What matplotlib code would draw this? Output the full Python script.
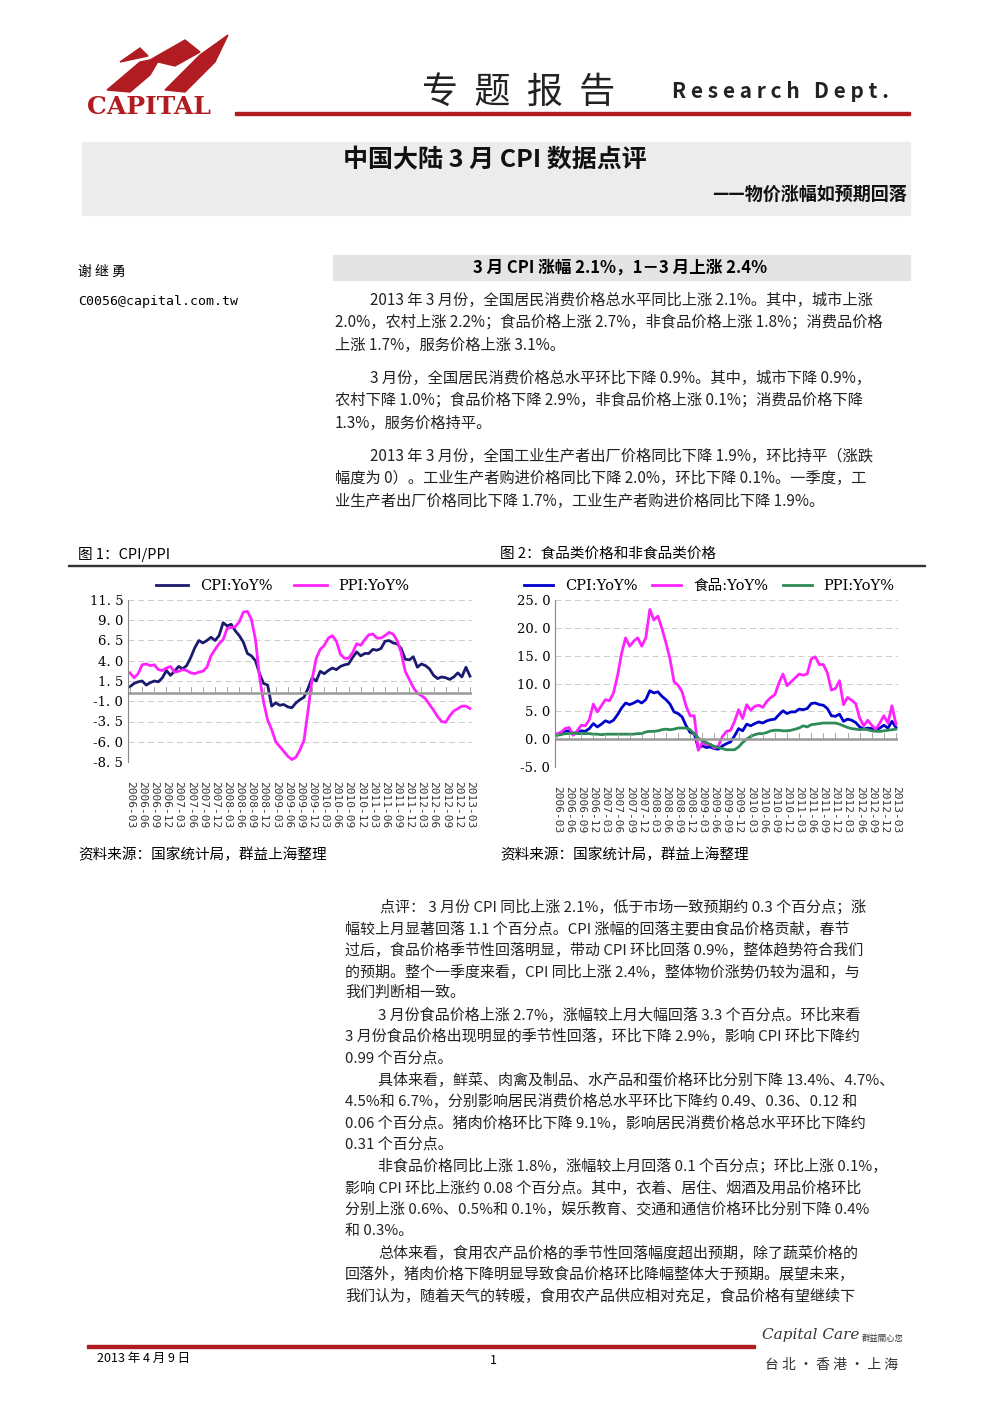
import matplotlib
matplotlib.use("Agg")
import matplotlib.pyplot as plt
import numpy as np
from matplotlib.patches import Rectangle, Polygon

plt.rcParams['font.family'] = ['Noto Sans CJK SC', 'DejaVu Sans']

# ---------------- data ----------------
months = [f"{y}-{m:02d}" for y in range(2006, 2014) for m in range(1, 13)]
months = months[months.index("2006-03"):months.index("2013-03") + 1]

cpi = [0.8,1.2,1.4,1.5,1.0,1.3,1.5,1.4,1.9,2.8,
       2.2,2.7,3.3,3.0,3.4,4.4,5.6,6.5,6.2,6.5,6.9,6.5,
       7.1,8.7,8.3,8.5,7.7,7.1,6.3,4.9,4.6,4.0,2.4,1.2,
       1.0,-1.6,-1.2,-1.5,-1.4,-1.7,-1.8,-1.2,-0.8,-0.5,0.6,1.9,
       1.5,2.7,2.4,2.8,3.1,2.9,3.3,3.5,3.6,4.4,5.1,4.6,
       4.9,4.9,5.4,5.3,5.5,6.4,6.5,6.2,6.1,5.5,4.2,4.1,
       4.5,3.2,3.6,3.4,3.0,2.2,1.8,2.0,1.9,1.7,2.0,2.5,
       2.0,3.2,2.1]
ppi = [2.5,1.9,2.4,3.5,3.6,3.4,3.5,2.9,2.8,3.1,
       3.3,2.6,2.7,2.9,2.8,2.5,2.4,2.6,2.7,3.2,4.6,5.4,
       6.1,6.6,8.0,8.1,8.2,8.8,10.0,10.1,9.1,6.6,2.0,-1.1,
       -3.3,-4.5,-6.0,-6.6,-7.2,-7.8,-8.2,-7.9,-7.0,-5.8,-2.1,1.7,
       4.3,5.4,5.9,6.8,7.1,6.4,4.8,4.3,4.3,5.0,6.1,5.9,
       6.6,7.2,7.3,6.8,6.8,7.1,7.5,7.3,6.5,5.0,2.7,1.7,
       0.7,0.0,-0.3,-0.7,-1.4,-2.1,-2.9,-3.5,-3.6,-2.8,-2.2,-1.9,
       -1.6,-1.6,-1.9]
food = [1.0,1.2,1.9,2.1,0.7,1.5,2.5,2.4,3.5,6.3,
        4.9,6.0,7.1,6.9,8.3,11.4,15.4,18.2,16.7,17.6,18.2,16.7,
        18.2,23.3,21.4,22.1,19.9,17.3,14.4,10.3,9.7,8.5,5.9,4.2,
        4.2,-2.0,-0.6,-1.0,-0.9,-1.6,-1.2,0.5,1.4,1.6,3.2,5.3,
        3.7,6.2,5.2,5.9,6.1,5.7,6.8,7.5,8.0,10.1,11.7,9.6,
        10.3,11.0,11.7,11.5,11.7,14.4,14.8,13.4,13.4,11.9,8.8,9.1,
        10.5,6.2,7.5,7.0,6.4,3.8,2.4,3.4,2.5,1.8,2.9,4.2,
        2.9,6.0,2.7]
green = [0.7,0.8,1.0,1.0,1.1,1.0,1.0,1.0,1.0,0.9,
         0.9,0.8,0.9,0.9,0.9,0.9,0.9,0.9,0.9,0.9,1.0,1.0,
         1.3,1.4,1.4,1.5,1.7,1.8,1.7,1.8,2.0,2.0,2.0,1.7,
         1.0,0.2,-0.3,-0.6,-1.0,-1.3,-1.5,-1.7,-1.9,-1.9,-1.9,-1.4,
         -0.6,0.0,0.5,0.8,1.0,1.0,1.2,1.5,1.6,1.6,1.5,1.5,
         1.6,1.8,2.0,2.4,2.2,2.6,2.7,2.8,2.9,2.9,2.9,2.9,
         2.7,2.4,2.1,1.9,1.8,1.7,1.8,1.7,1.5,1.4,1.4,1.5,
         1.6,1.7,1.8]

W, H = 992, 1403
fig = plt.figure(figsize=(W/100, H/100), dpi=100)

def T(x, y, s, **kw):
    kw.setdefault('va', 'center')
    fig.text(x/W, 1 - y/H, s, **kw)

def R(x0, y0, x1, y1, **kw):
    fig.patches.append(Rectangle((x0/W, 1-y1/H), (x1-x0)/W, (y1-y0)/H,
                                 transform=fig.transFigure, **kw))

def P(pts, **kw):
    fig.patches.append(Polygon([(x/W, 1-y/H) for x, y in pts],
                               transform=fig.transFigure, **kw))

red = '#b01c22'
# logo
P([(107,90),(140,62),(160,58),(150,75),(130,92)], color=red)
P([(150,60),(185,40),(200,52),(175,66)], color=red)
P([(165,90),(200,55),(228,35),(215,62),(185,92)], color=red)
P([(120,62),(140,48),(148,56)], color=red)
T(87, 107, "CAPITAL", fontsize=18, fontweight='bold', color=red, family=['DejaVu Serif'])
# header
T(422, 93, "专  题  报  告", fontsize=26, color='#222')
T(672, 92, "R e s e a r c h   D e p t .", fontsize=15, fontweight='bold', color='#222')
R(235, 112, 910, 115, color=red)
# title box
R(82, 142, 910, 215, color='#ececec')
T(495, 160, "中国大陆 3 月 CPI 数据点评", fontsize=18, ha='center', fontweight='bold', color='#111')
T(907, 194, "——物价涨幅如预期回落", fontsize=13, ha='right', fontweight='bold', color='#111')
# author
T(78, 272, "谢 继 勇", fontsize=10)
T(78, 302, "C0056@capital.com.tw", fontsize=9.5, family=['DejaVu Sans Mono'])
R(333, 255, 910, 280, color='#e4e4e4')
T(620, 268, "3 月 CPI 涨幅 2.1%，1－3 月上涨 2.4%", fontsize=12, ha='center', fontweight='bold')

paras = [
    (300, 370, "2013 年 3 月份，全国居民消费价格总水平同比上涨 2.1%。其中，城市上涨"),
    (322, 335, "2.0%，农村上涨 2.2%；食品价格上涨 2.7%，非食品价格上涨 1.8%；消费品价格"),
    (345, 335, "上涨 1.7%，服务价格上涨 3.1%。"),
    (378, 370, "3 月份，全国居民消费价格总水平环比下降 0.9%。其中，城市下降 0.9%，"),
    (400, 335, "农村下降 1.0%；食品价格下降 2.9%，非食品价格上涨 0.1%；消费品价格下降"),
    (423, 335, "1.3%，服务价格持平。"),
    (456, 370, "2013 年 3 月份，全国工业生产者出厂价格同比下降 1.9%，环比持平（涨跌"),
    (478, 335, "幅度为 0）。工业生产者购进价格同比下降 2.0%，环比下降 0.1%。一季度，工"),
    (501, 335, "业生产者出厂价格同比下降 1.7%，工业生产者购进价格同比下降 1.9%。"),
]
for y, x, s in paras:
    T(x, y, s, fontsize=11, color='#222')

# figure captions
T(78, 554, "图 1：CPI/PPI", fontsize=10.5)
T(500, 554, "图 2：食品类价格和非食品类价格", fontsize=10.5)
R(68, 565, 925, 566.5, color='#333')
T(78, 855, "资料来源：国家统计局，群益上海整理", fontsize=10.5, style='italic')
T(500, 855, "资料来源：国家统计局，群益上海整理", fontsize=10.5, style='italic')

x = np.arange(len(months))

def style_ax(ax, ylo, yhi, step):
    ax.set_xlim(-0.5, len(months) - 0.5)
    ax.set_ylim(ylo, yhi)
    ticks = np.arange(ylo, yhi + 0.01, step)
    ax.set_yticks(ticks)
    ax.set_yticklabels([f"{t:.1f}".replace('.', '. ') for t in ticks], fontsize=9.5,
                       family=['DejaVu Serif'])
    for s in ['top', 'right', 'bottom']:
        ax.spines[s].set_visible(False)
    ax.spines['left'].set_color('#888')
    ax.yaxis.grid(True, color='#ccc', linestyle=(0, (6, 4)), linewidth=0.7)
    ax.set_axisbelow(True)
    ax.axhline(0, color='#999', lw=1.8)
    ax.tick_params(axis='y', length=0)
    ax.set_xticks(x[::3])
    ax.set_xticklabels(months[::3], rotation=-90, fontsize=8, family=['DejaVu Sans Mono'],
                       color='#333')
    ax.tick_params(axis='x', length=0, pad=14)
    for xi in x[::3]:
        ax.plot([xi, xi], [0, (yhi - ylo) * 0.035], color='#999', lw=0.6)

# chart 1
ax1 = fig.add_axes([128/W, 1-762/H, (472-128)/W, (762-600)/H])
l1, = ax1.plot(x, cpi, color='#1a1a6e', lw=2, label='CPI:YoY%')
l2, = ax1.plot(x, ppi, color='#ff22ff', lw=2, label='PPI:YoY%')
style_ax(ax1, -8.5, 11.5, 2.5)
ax1.legend(handles=[l1, l2], loc='lower center', bbox_to_anchor=(0.45, 1.0), ncol=2,
           frameon=False, handlelength=2.2, columnspacing=1.5,
           borderaxespad=0.1, prop={'family': ['DejaVu Serif'], 'size': 10.5})

# chart 2
ax2 = fig.add_axes([555/W, 1-767/H, (898-555)/W, (767-600)/H])
m1, = ax2.plot(x, cpi, color='#0000cc', lw=2, label='CPI:YoY%')
m2, = ax2.plot(x, food, color='#ff22ff', lw=2, label='食品:YoY%')
m3, = ax2.plot(x, green, color='#2e8b57', lw=2, label='PPI:YoY%')
style_ax(ax2, -5, 25, 5)
ax2.legend(handles=[m1, m2, m3], loc='lower center', bbox_to_anchor=(0.45, 1.0), ncol=3,
           frameon=False, handlelength=2.0, columnspacing=1.0, borderaxespad=0.1,
           prop={'family': ['DejaVu Serif', 'Noto Sans CJK SC'], 'size': 10.5})

body = [
    (907, 380, "点评： 3 月份 CPI 同比上涨 2.1%，低于市场一致预期约 0.3 个百分点；涨"),
    (929, 345, "幅较上月显著回落 1.1 个百分点。CPI 涨幅的回落主要由食品价格贡献，春节"),
    (950, 345, "过后，食品价格季节性回落明显，带动 CPI 环比回落 0.9%，整体趋势符合我们"),
    (972, 345, "的预期。整个一季度来看，CPI 同比上涨 2.4%，整体物价涨势仍较为温和，与"),
    (993, 345, "我们判断相一致。"),
    (1015, 378, "3 月份食品价格上涨 2.7%，涨幅较上月大幅回落 3.3 个百分点。环比来看"),
    (1036, 345, "3 月份食品价格出现明显的季节性回落，环比下降 2.9%，影响 CPI 环比下降约"),
    (1058, 345, "0.99 个百分点。"),
    (1080, 378, "具体来看，鲜菜、肉禽及制品、水产品和蛋价格环比分别下降 13.4%、4.7%、"),
    (1101, 345, "4.5%和 6.7%，分别影响居民消费价格总水平环比下降约 0.49、0.36、0.12 和"),
    (1123, 345, "0.06 个百分点。猪肉价格环比下降 9.1%，影响居民消费价格总水平环比下降约"),
    (1144, 345, "0.31 个百分点。"),
    (1166, 378, "非食品价格同比上涨 1.8%，涨幅较上月回落 0.1 个百分点；环比上涨 0.1%，"),
    (1188, 345, "影响 CPI 环比上涨约 0.08 个百分点。其中，衣着、居住、烟酒及用品价格环比"),
    (1209, 345, "分别上涨 0.6%、0.5%和 0.1%，娱乐教育、交通和通信价格环比分别下降 0.4%"),
    (1231, 345, "和 0.3%。"),
    (1253, 378, "总体来看，食用农产品价格的季节性回落幅度超出预期，除了蔬菜价格的"),
    (1274, 345, "回落外，猪肉价格下降明显导致食品价格环比降幅整体大于预期。展望未来，"),
    (1296, 345, "我们认为，随着天气的转暖，食用农产品供应相对充足，食品价格有望继续下"),
]
for y, xx, s in body:
    T(xx, y, s, fontsize=10.8, color='#222')

# footer
R(87, 1345, 755, 1348, color=red)
T(97, 1358, "2013 年 4 月 9 日", fontsize=9)
T(490, 1360, "1", fontsize=9)
T(762, 1335, "Capital Care", fontsize=11, style='italic', family=['DejaVu Serif'], color='#333')
T(862, 1338, "群益關心您", fontsize=6, color='#333')
T(765, 1365, "台 北 · 香 港 · 上 海", fontsize=10, color='#333')

fig.savefig("out.png", dpi=100, facecolor='white')
